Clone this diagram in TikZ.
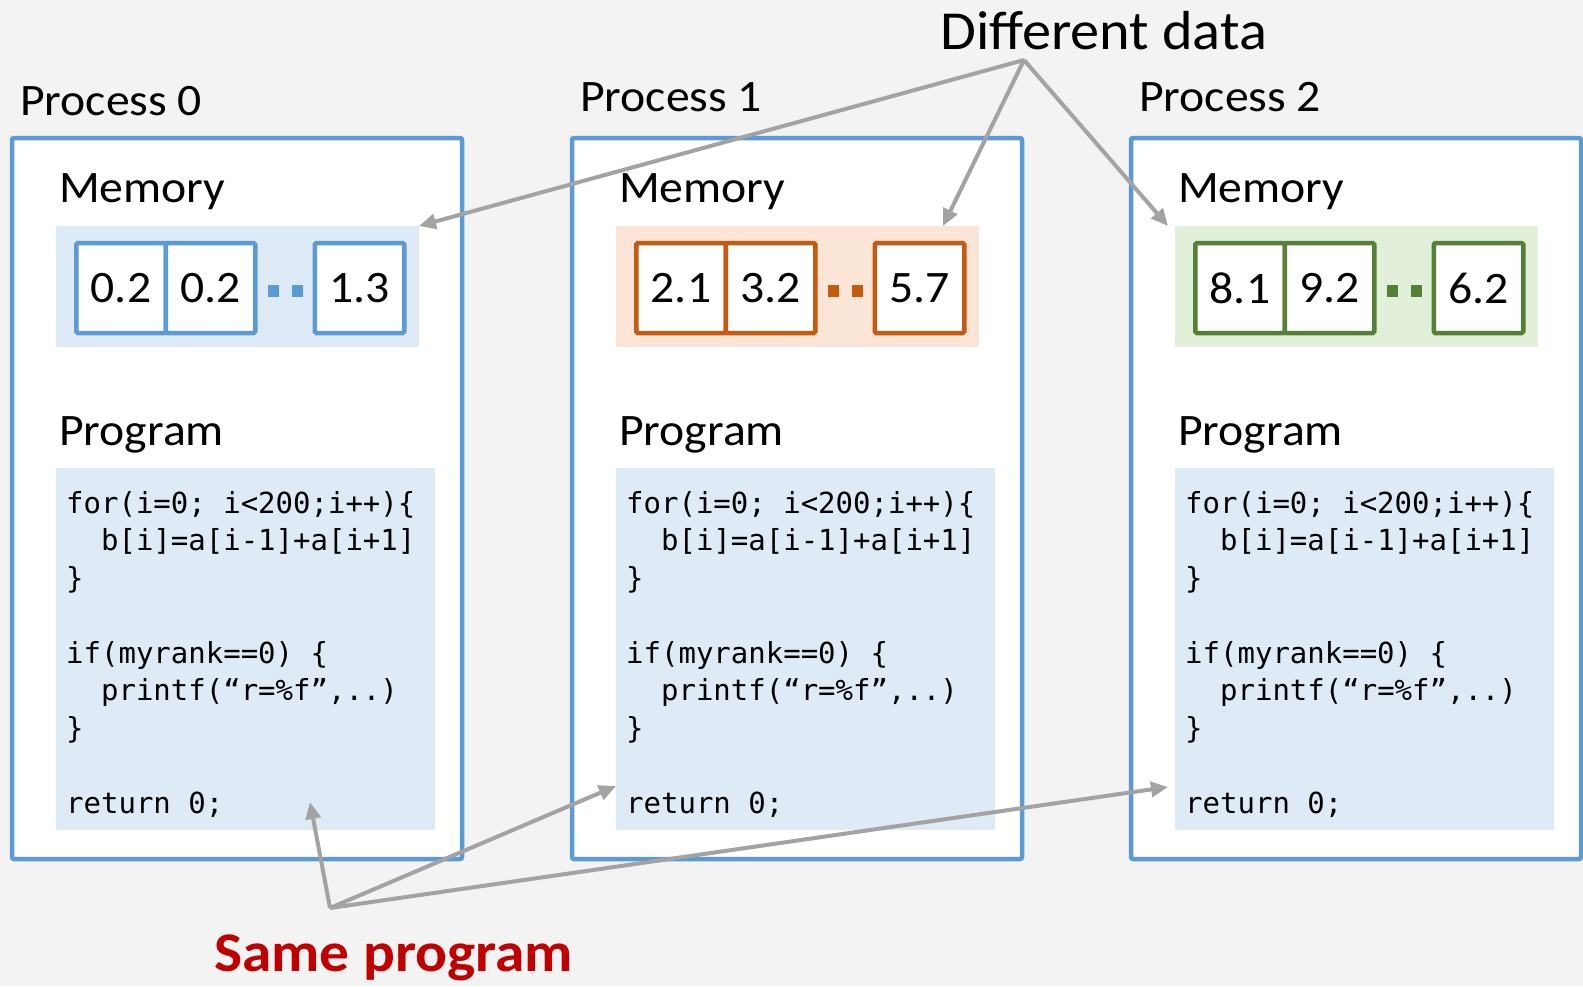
\documentclass[tikz,border=0pt]{standalone}
\usepackage{fontspec}
\setmainfont{Carlito}[FakeStretch=1.06]
\newfontfamily\codefont{DejaVu Sans Mono}
\usepackage{tikz}
\usetikzlibrary{arrows.meta}
\usepackage{xcolor}
\definecolor{bggray}{HTML}{F3F3F3}
\definecolor{boxblue}{HTML}{5B9BD5}
\definecolor{cellblue}{HTML}{5B9BD5}
\definecolor{memblue}{HTML}{DEEBF7}
\definecolor{cellorange}{HTML}{C55A11}
\definecolor{memorange}{HTML}{FBE5D6}
\definecolor{cellgreen}{HTML}{538135}
\definecolor{memgreen}{HTML}{E2F0D9}
\definecolor{arrowgray}{HTML}{A3A3A3}
\definecolor{samered}{HTML}{C00000}
\newcommand{\progtext}{\vtop{\baselineskip=37.5pt
  \hbox{for(i=0; i<200;i++)\{}
  \hbox{\ \ b[i]=a[i-1]+a[i+1]}
  \hbox{\}}
  \hbox{}
  \hbox{if(myrank==0) \{}
  \hbox{\ \ printf(“r=\%f”,..)}
  \hbox{\}}
  \hbox{}
  \hbox{return 0;}}}

\begin{document}
\begin{tikzpicture}[x=1pt,y=-1pt]
        \tikzset{
          procbox/.style={draw=boxblue, line width=4.5pt, fill=white, rounded corners=2pt, minimum width=450pt, minimum height=721pt, inner sep=0},
          membg/.style={minimum width=363pt, minimum height=121pt, inner sep=0, outer sep=0},
          progbg/.style={fill=memblue, minimum width=379pt, minimum height=362pt, inner sep=0, outer sep=0},
          cell/.style={fill=white, line width=4.5pt, rounded corners=1.5pt, minimum width=89.5pt, minimum height=90pt, inner sep=0, font=\fontsize{45}{50}\selectfont},
          plabel/.style={anchor=base west, inner sep=0, font=\fontsize{45}{50}\selectfont},
          data/.style={draw=arrowgray, line width=4pt, -{Triangle[length=17pt,width=15pt]}}
        }
        \fill[bggray] (0,0) rectangle (1583,986);
        \useasboundingbox (0,0) rectangle (1583,986);
        \foreach \i/\dx/\ly/\cc/\mc/\va/\vb/\vc in {0/0/115/cellblue/memblue/0.2/0.2/1.3, 1/560/111/cellorange/memorange/2.1/3.2/5.7, 2/1119/111/cellgreen/memgreen/8.1/9.2/6.2}{
          \node[procbox] (box\i) at (237+\dx,498.5) {};
          \node[plabel] (proc\i) at (20+\dx,\ly) {Process \i};
          \node[plabel] (memlbl\i) at (59+\dx,202) {Memory};
          \node[membg, fill=\mc] (mem\i) at (237.5+\dx,286.5) {};
          \node[cell, draw=\cc] (a\i) at (121+\dx,288) {\va};
          \node[cell, draw=\cc] (b\i) at (210.5+\dx,288) {\vb};
          \node[cell, draw=\cc] (c\i) at (359.5+\dx,288) {\vc};
          \draw[\cc, line width=12pt, dash pattern=on 11pt off 13pt, shorten <=10.5pt, shorten >=9.75pt] ([yshift=-3pt]b\i.east) -- ([yshift=-3pt]c\i.west);
          \node[plabel] (proglbl\i) at (59+\dx,445) {Program};
          \node[progbg] (prog\i) at (245.5+\dx,649) {};
          \node[anchor=base west, inner sep=0, font=\codefont\fontsize{29}{37.5}\selectfont] (code\i) at (66+\dx,513) {\progtext};
        }
        \coordinate (dd) at (1024,60);
        \coordinate (sp) at (330,908);
        \node[anchor=base west, inner sep=0, font=\fontsize{55}{60}\selectfont] (diff) at (940,49) {Different data};
        \node[anchor=base west, inner sep=0, text=samered, font=\bfseries\fontsize{56}{60}\selectfont] (same) at (214,971) {Same program};
        \draw[data] (dd) -- (mem0.north east);
        \draw[data] (dd) -- ([xshift=-36pt]mem1.north east);
        \draw[data] (dd) -- ([xshift=-7pt]mem2.north west);
        \draw[data] (sp) -- ([xshift=64.5pt,yshift=28pt]prog0.south);
        \draw[data] (sp) -- ([yshift=44pt]prog1.south west);
        \draw[data] (sp) -- ([xshift=-7pt,yshift=43pt]prog2.south west);
\end{tikzpicture}
\end{document}
